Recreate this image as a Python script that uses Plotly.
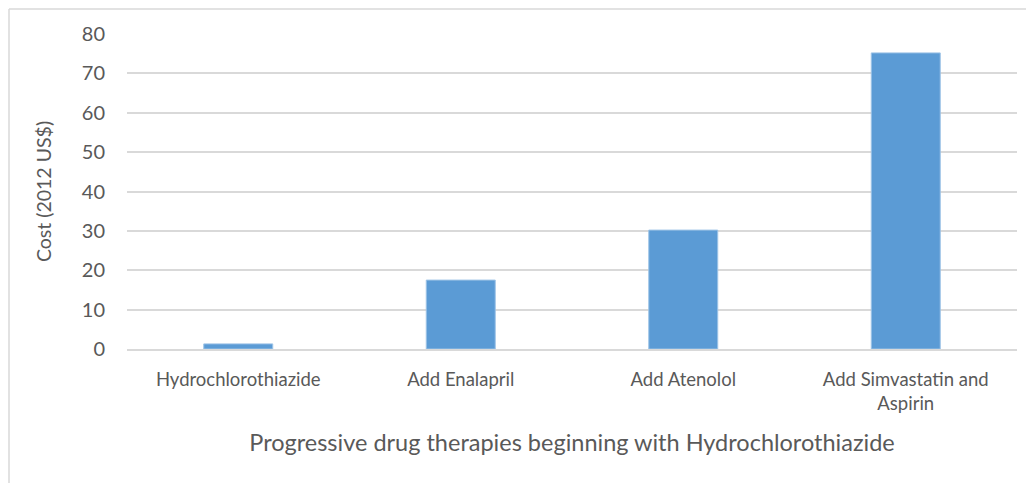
import plotly.graph_objects as go

categories = ["Hydrochlorothiazide", "Add Enalapril", "Add Atenolol", "Add Simvastatin and<br>Aspirin"]
costs = [1.3, 17.5, 30.2, 75.2]
y_ticks = [0, 10, 20, 30, 40, 50, 60, 70, 80]

# page body has an 8px margin, so the figure is a bit smaller than the window
W, H = 1018, 475
L, R, T, B = 119, 9, 26, 134
pw = W - L - R
ph = H - T - B

fig = go.Figure()
fig.add_trace(go.Bar(
    x=categories, y=costs,
    marker=dict(color="#5b9bd5", line=dict(color="#9dc3e6", width=1)),
    width=0.31,
))

font = "Lato, 'Open Sans', sans-serif"
border = dict(color="#d9d9d9", width=1.5)
fig.update_layout(
    width=W, height=H,
    margin=dict(l=L, r=R, t=T, b=B),
    plot_bgcolor="white", paper_bgcolor="white",
    showlegend=False,
    font=dict(family=font, color="#595959", size=18),
    xaxis=dict(
        title=dict(text="Progressive drug therapies beginning with Hydrochlorothiazide",
                   font=dict(size=23.5, color="#595959"), standoff=22),
        showgrid=False, showline=True, linecolor="#d9d9d9", linewidth=1.5,
        tickfont=dict(size=18.5, color="#595959"),
        ticks="outside", ticklen=13, tickcolor="rgba(0,0,0,0)",
    ),
    yaxis=dict(
        title=dict(text="Cost (2012 US$)", font=dict(size=19.5, color="#595959"), standoff=24),
        range=[0, 80], tickvals=y_ticks,
        showgrid=True, gridcolor="#d9d9d9", gridwidth=1.5,
        zeroline=False, showline=False,
        tickfont=dict(size=20, color="#595959"),
        ticks="outside", ticklen=17, tickcolor="rgba(0,0,0,0)",
    ),
    # chart-area border: only the top and left edges are in view
    shapes=[
        dict(type="line", xref="paper", yref="paper",
             x0=(1 - L) / pw, x1=(W - L) / pw, y0=1 + (T - 1) / ph, y1=1 + (T - 1) / ph,
             line=border, layer="below"),
        dict(type="line", xref="paper", yref="paper",
             x0=(1 - L) / pw, x1=(1 - L) / pw, y0=-B / ph, y1=1 + (T - 1) / ph,
             line=border, layer="below"),
    ],
)

fig.write_html("out.html")
